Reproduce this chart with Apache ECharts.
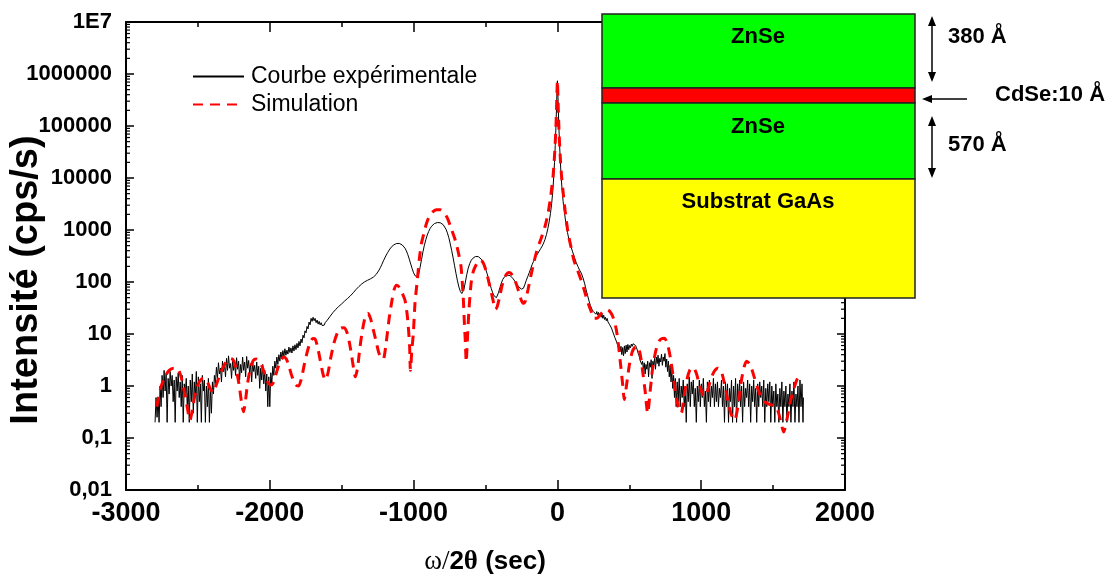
<!DOCTYPE html>
<html><head><meta charset="utf-8">
<script src="https://cdn.jsdelivr.net/npm/echarts@6/dist/echarts.min.js"></script>
<style>html,body{margin:0;padding:0;background:#fff}#c{width:1117px;height:579px}</style>
</head><body><div id="c"></div>
<script>
const seriesNames = ['Courbe expérimentale', 'Simulation'];
const yTickLabels = ['0,01', '0,1', '1', '10', '100', '1000', '10000', '100000', '1000000', '1E7'];
const xRange = [-3000, 2000];
const yRange = [0.01, 1e7];

const experimental = [
[-2798,0.2],[-2791,0.6],[-2784,0.25],[-2777,0.6],[-2770,0.2],[-2763,1.0],[-2756,0.4],[-2749,1.6],[-2742,0.6],[-2735,2.0],
[-2728,0.8],[-2721,1.7],[-2714,0.2],[-2707,1.4],[-2700,0.7],[-2693,1.9],[-2686,1.0],[-2679,1.6],[-2672,0.5],[-2665,1.3],
[-2658,0.2],[-2651,1.5],[-2644,0.8],[-2637,1.8],[-2630,0.6],[-2623,1.2],[-2616,0.4],[-2609,1.6],[-2602,0.2],[-2595,1.1],
[-2588,0.7],[-2581,1.4],[-2574,0.4],[-2567,1.0],[-2560,0.2],[-2553,1.3],[-2546,0.5],[-2539,1.7],[-2532,0.3],[-2525,1.2],
[-2518,0.6],[-2511,1.9],[-2504,0.2],[-2497,1.5],[-2490,0.5],[-2483,1.1],[-2476,0.2],[-2469,1.6],[-2462,0.8],[-2455,1.3],
[-2448,0.2],[-2441,1.0],[-2434,0.4],[-2427,1.4],[-2420,0.2],[-2413,0.9],[-2406,0.3],[-2399,1.2],[-2392,0.7],[-2385,1.6],
[-2378,1.1],[-2371,2.3],[-2364,1.4],[-2357,2.8],[-2350,1.7],[-2343,2.2],[-2336,1.2],[-2329,3.0],[-2322,1.9],[-2315,2.6],
[-2308,1.5],[-2301,3.4],[-2294,2.0],[-2287,3.8],[-2280,2.2],[-2273,2.7],[-2266,1.4],[-2259,3.1],[-2252,2.0],[-2245,2.8],
[-2238,1.6],[-2231,3.5],[-2224,2.1],[-2217,3.0],[-2210,1.3],[-2203,2.6],[-2196,1.8],[-2189,3.6],[-2182,2.0],[-2175,2.9],
[-2168,1.5],[-2161,3.7],[-2154,2.2],[-2147,3.1],[-2140,1.7],[-2133,2.7],[-2126,1.2],[-2119,3.0],[-2112,1.9],[-2105,2.5],
[-2098,1.4],[-2091,2.9],[-2084,1.6],[-2077,2.4],[-2070,0.9],[-2063,2.2],[-2056,1.3],[-2049,2.6],[-2042,1.1],[-2035,2.0],
[-2028,0.8],[-2021,1.7],[-2014,0.4],[-2007,1.5],[-2000,0.4],[-1993,1.8],[-1986,1.1],[-1979,2.4],[-1972,1.6],[-1965,3.0],
[-1958,2.2],[-1951,3.6],[-1944,2.6],[-1937,4.0],[-1930,3.0],[-1923,4.5],[-1916,3.4],[-1909,4.8],[-1902,3.7],[-1895,5.2],
[-1888,3.9],[-1881,4.9],[-1874,4.1],[-1867,5.6],[-1860,4.4],[-1853,5.4],[-1846,4.3],[-1839,5.9],[-1832,4.7],[-1825,6.2],
[-1818,5.0],[-1811,6.6],[-1804,5.4],[-1797,7.2],[-1790,5.9],[-1783,8.0],[-1776,6.8],[-1769,9.5],[-1762,8.4],[-1755,11.5],
[-1748,10.5],[-1741,14],[-1734,12.5],[-1727,17],[-1720,15],[-1713,20],[-1706,17.5],[-1699,21],[-1692,18],[-1685,20],
[-1678,16.5],[-1671,18.5],[-1664,15.5],[-1657,17.5],[-1650,15],[-1643,16.5],[-1636,14.5],[-1629,15.5],[-1622,14.8],[-1615,16.5],
[-1608,16.8],[-1600,18.5],[-1590,19.5],[-1580,22],[-1570,23],[-1560,26],[-1550,27],[-1540,30],[-1530,31],[-1520,34],
[-1510,35],[-1500,38],[-1490,39],[-1480,43],[-1470,44],[-1460,48],[-1450,50],[-1440,54],[-1430,57],[-1420,62],
[-1410,66],[-1400,72],[-1390,76],[-1380,82],[-1370,86],[-1360,92],[-1350,96],[-1340,101],[-1330,104],[-1320,108],
[-1310,111],[-1300,115],[-1290,118],[-1280,124],[-1270,130],[-1260,140],[-1250,152],[-1240,170],[-1230,192],[-1220,220],
[-1210,255],[-1200,290],[-1190,330],[-1180,370],[-1170,410],[-1160,450],[-1150,485],[-1140,515],[-1130,535],[-1120,548],
[-1110,555],[-1100,552],[-1090,540],[-1080,518],[-1070,488],[-1060,448],[-1050,395],[-1040,335],[-1030,275],[-1020,222],
[-1010,180],[-1000,150],[-990,132],[-980,125],[-972,126],[-965,140],[-955,190],[-945,270],[-935,380],[-925,510],
[-915,650],[-905,800],[-895,940],[-885,1070],[-875,1180],[-865,1270],[-855,1330],[-845,1370],[-835,1390],[-825,1395],
[-815,1380],[-805,1340],[-795,1270],[-785,1170],[-775,1040],[-765,880],[-755,710],[-745,540],[-735,400],[-725,290],
[-715,205],[-705,145],[-695,105],[-685,80],[-675,66],[-665,60],[-657,61],[-650,72],[-640,100],[-630,140],
[-620,185],[-610,225],[-600,258],[-590,283],[-580,300],[-570,309],[-560,312],[-550,308],[-540,296],[-530,276],
[-520,248],[-510,215],[-500,180],[-490,148],[-480,118],[-470,94],[-460,75],[-450,62],[-440,54],[-430,50],
[-424,50],[-418,54],[-410,62],[-400,78],[-390,95],[-380,112],[-370,124],[-360,132],[-350,136],[-340,136],
[-330,133],[-320,127],[-310,118],[-300,108],[-290,98],[-280,89],[-270,81],[-260,76],[-250,73],[-243,72],
[-236,76],[-226,90],[-216,108],[-206,128],[-196,150],[-186,180],[-176,215],[-166,250],[-156,285],[-146,320],
[-136,355],[-126,395],[-116,440],[-106,490],[-96,560],[-86,660],[-76,820],[-66,1080],[-56,1500],[-48,2100],
[-40,3200],[-32,5600],[-26,10000],[-20,20000],[-15,42000],[-10,100000],[-6,230000],[-3,450000],[0,740000],[3,450000],
[6,230000],[10,100000],[15,45000],[20,22000],[26,11000],[32,6200],[40,3500],[48,2300],[58,1400],[70,900],
[82,620],[94,480],[106,380],[118,300],[130,240],[142,200],[154,170],[166,148],[178,120],[190,92],
[200,70],[210,55],[220,43],[230,35],[240,30],[250,27],[256,26],[262,28],[268,24],[274,27],
[280,23],[286,26],[292,22],[298,25],[304,21],[310,24],[316,20],[322,23],[328,19],[334,21],
[340,18],[346,20],[352,17],[358,18],[364,15],[370,15.5],[376,13],[382,12.5],[388,10.5],[394,10],
[400,8.5],[406,8],[412,7],[418,6.8],[424,5.6],[430,6.2],[436,4.6],[442,5.8],[448,4.0],[454,5.5],
[460,3.8],[466,5.9],[472,4.2],[478,6.1],[484,4.5],[490,6.3],[496,5.0],[502,6.0],[508,5.4],[514,6.4],
[520,5.8],[526,6.5],[532,6.7],[538,6.4],[544,6.0],[550,5.4],[556,4.9],[562,4.2],[568,3.8],[574,3.2],
[580,3.4],[586,2.6],[592,3.0],[598,2.1],[604,2.8],[610,1.7],[616,2.6],[622,2.1],[628,3.0],[634,1.5],
[640,2.8],[646,2.3],[652,3.2],[658,1.4],[664,3.0],[670,2.5],[676,3.4],[682,2.1],[688,3.6],[694,2.7],
[700,3.9],[706,2.4],[712,3.4],[718,2.9],[724,4.1],[730,2.5],[736,3.6],[742,3.0],[748,4.2],[754,2.3],
[760,3.3],[766,1.9],[772,3.0],[778,1.5],[784,2.5],[790,1.2],[796,2.0],[802,0.9],[808,1.6],[814,0.6],
[820,1.4],[826,0.4],[833,1.2],[840,0.5],[847,1.4],[854,0.4],[861,1.0],[868,0.6],[875,1.3],[882,0.4],
[889,0.9],[896,0.2],[903,1.1],[910,0.5],[917,1.5],[924,0.4],[931,1.2],[938,0.7],[945,1.3],[952,0.4],
[959,0.9],[966,0.2],[973,1.0],[980,0.5],[987,1.3],[994,0.4],[1001,1.1],[1008,0.6],[1015,1.4],[1022,0.4],
[1029,0.8],[1036,0.2],[1043,1.2],[1050,0.5],[1057,1.3],[1064,0.4],[1071,1.0],[1078,0.6],[1085,1.4],[1092,0.4],
[1099,1.1],[1106,0.5],[1113,1.2],[1120,0.4],[1127,0.9],[1134,0.6],[1141,1.3],[1148,0.4],[1155,1.0],[1162,0.2],
[1169,1.2],[1176,0.4],[1183,1.1],[1190,0.2],[1197,0.9],[1204,0.5],[1211,1.3],[1218,0.2],[1225,1.0],[1232,0.4],
[1239,1.4],[1246,0.2],[1253,1.1],[1260,0.5],[1267,1.3],[1274,0.4],[1281,1.0],[1288,0.2],[1295,1.2],[1302,0.4],
[1309,0.9],[1316,0.6],[1323,1.3],[1330,0.4],[1337,1.1],[1344,0.2],[1351,1.0],[1358,0.5],[1365,1.3],[1372,0.4],
[1379,0.9],[1386,0.2],[1393,1.1],[1400,0.4],[1407,1.2],[1414,0.6],[1421,1.0],[1428,0.4],[1435,1.3],[1442,0.2],
[1449,0.9],[1456,0.4],[1463,1.1],[1470,0.5],[1477,1.2],[1484,0.2],[1491,1.0],[1498,0.4],[1505,0.8],[1512,0.2],
[1519,1.1],[1526,0.4],[1533,0.7],[1540,0.2],[1547,0.9],[1554,0.4],[1561,1.2],[1568,0.2],[1575,0.8],[1582,0.4],
[1589,1.0],[1596,0.2],[1603,0.7],[1610,0.4],[1617,1.1],[1624,0.2],[1631,0.8],[1638,0.4],[1645,1.2],[1652,0.2],
[1659,0.7],[1666,0.4],[1673,1.0],[1680,0.2],[1687,1.3],[1694,0.4],[1701,1.1],[1708,0.2],[1711,0.6]
];

const simulation = [
[-2786,0.4],[-2760,0.9],[-2730,1.5],[-2700,2.0],[-2670,2.2],[-2645,2.2],[-2620,1.6],[-2595,0.8],[-2575,0.4],[-2555,0.22],
[-2535,0.4],[-2515,0.8],[-2490,1.2],[-2465,1.4],[-2440,1.3],[-2415,0.9],[-2395,0.75],[-2370,1.1],[-2345,1.7],[-2315,2.6],
[-2290,3.2],[-2270,3.4],[-2250,3.0],[-2230,1.9],[-2210,0.9],[-2195,0.45],[-2183,0.32],[-2170,0.5],[-2155,1.1],[-2135,2.2],
[-2115,3.1],[-2095,3.3],[-2075,3.0],[-2055,2.4],[-2035,1.7],[-2015,1.2],[-1995,1.05],[-1980,1.1],[-1960,1.6],[-1940,2.4],
[-1920,3.2],[-1904,3.6],[-1885,3.3],[-1865,2.3],[-1845,1.5],[-1820,1.05],[-1800,1.0],[-1780,1.4],[-1760,2.6],[-1740,4.5],
[-1720,6.8],[-1700,8.2],[-1685,8.0],[-1670,6.0],[-1650,3.2],[-1630,1.7],[-1613,1.3],[-1595,1.8],[-1575,3.6],[-1555,6.5],
[-1530,10.5],[-1505,13],[-1485,13.2],[-1465,11],[-1445,6.5],[-1425,3.0],[-1405,1.5],[-1390,2.2],[-1375,5],[-1360,10],
[-1345,17],[-1330,24],[-1318,25],[-1300,20],[-1280,12],[-1260,7],[-1240,4.2],[-1220,3.3],[-1207,3.4],[-1190,7],
[-1170,20],[-1150,45],[-1135,72],[-1118,87],[-1100,80],[-1080,62],[-1060,45],[-1045,24],[-1037,14],[-1028,6],
[-1022,2.0],[-1012,5],[-1002,10],[-990,40],[-974,110],[-960,280],[-945,560],[-928,870],[-910,1350],[-890,1850],
[-865,2250],[-840,2450],[-815,2450],[-790,2200],[-765,1700],[-740,1100],[-715,700],[-700,500],[-685,330],[-670,195],
[-655,52],[-648,19],[-640,6.8],[-634,2.9],[-627,6.8],[-615,29],[-600,95],[-585,160],[-565,215],[-550,250],
[-533,262],[-515,230],[-495,160],[-475,95],[-455,55],[-440,36],[-430,30],[-418,34],[-400,55],[-385,85],
[-370,115],[-355,140],[-340,152],[-325,148],[-305,125],[-285,90],[-265,60],[-250,44],[-235,39],[-222,44],
[-205,70],[-185,130],[-165,230],[-145,380],[-125,560],[-105,800],[-85,1200],[-65,2100],[-50,3800],[-38,7000],
[-30,11000],[-22,22000],[-15,48000],[-10,100000],[-6,220000],[-3,440000],[0,740000],[3,440000],[6,220000],[10,100000],
[15,46000],[22,20000],[30,10000],[38,6000],[48,3200],[60,1700],[75,850],[94,480],[115,260],[140,170],
[164,110],[190,65],[215,38],[240,25],[256,20],[275,20],[300,24],[325,28],[350,29],[370,26],
[390,20],[410,12],[425,6],[440,2.5],[455,1.0],[465,0.55],[480,1.0],[500,2.5],[520,4.5],[540,5.6],
[558,5.8],[575,4.2],[592,2.0],[610,0.8],[628,0.3],[645,0.8],[665,2.5],[690,5.5],[715,7.8],[744,8.3],
[765,6.5],[790,3.0],[815,1.0],[840,0.4],[861,0.3],[880,0.6],[900,1.3],[920,2.0],[942,2.3],[965,1.8],
[990,1.0],[1010,0.7],[1023,0.63],[1040,0.75],[1065,1.3],[1090,1.9],[1116,2.2],[1140,1.9],[1165,1.0],[1190,0.45],
[1210,0.28],[1232,0.22],[1255,0.4],[1280,1.3],[1300,2.4],[1316,3.0],[1340,2.6],[1365,1.6],[1390,0.95],[1415,0.62],
[1440,0.5],[1470,0.45],[1500,0.42],[1530,0.35],[1555,0.2],[1573,0.13],[1595,0.22],[1620,0.5],[1645,0.9],[1670,1.4],
[1690,1.5]
];

// minor log ticks (2..9 per decade) placed through the axis scale
const minorTickValues = [];
for (let e = -2; e < 7; e++) for (let m = 2; m <= 9; m++) minorTickValues.push([xRange[0], m * Math.pow(10, e)]);

const FONT = '"Liberation Sans", Arial, Helvetica, sans-serif';
const chart = echarts.init(document.getElementById('c'), null, { renderer: 'canvas' });

const xAxisBase = {
  type: 'value', min: xRange[0], max: xRange[1], interval: 1000,
  axisLine: { show: true, onZero: false, lineStyle: { color: '#000', width: 2 } },
  axisTick: { show: true, inside: true, length: 10, lineStyle: { color: '#000', width: 1.5 } },
  minorTick: { show: true, splitNumber: 2, length: 5, lineStyle: { color: '#000', width: 1.5 } },
  splitLine: { show: false }
};
const yAxisBase = {
  type: 'log', logBase: 10, min: yRange[0], max: yRange[1], interval: 1,
  axisLine: { show: true, onZero: false, lineStyle: { color: '#000', width: 2 } },
  axisTick: { show: true, inside: true, length: 8, lineStyle: { color: '#000', width: 1.5 } },
  minorTick: { show: false },
  splitLine: { show: false }
};

chart.setOption({
  animation: false,
  backgroundColor: '#fff',
  grid: { left: 126, right: 272, top: 22, bottom: 89, containLabel: false },
  legend: {
    data: seriesNames, orient: 'vertical', left: 192, top: 65, itemGap: 5, padding: 0,
    itemWidth: 51, itemHeight: 14, selectedMode: false,
    itemStyle: { opacity: 0 },
    textStyle: { fontFamily: FONT, fontSize: 23, color: '#000', lineHeight: 23, padding: [0, 0, 0, 2] }
  },
  xAxis: [
    Object.assign({}, xAxisBase, { position: 'bottom',
      axisLabel: { show: true, margin: 10, fontFamily: FONT, fontSize: 27, fontWeight: 'bold', color: '#000',
        formatter: v => String(v) } }),
    Object.assign({}, xAxisBase, { position: 'top', axisLabel: { show: false } })
  ],
  yAxis: [
    Object.assign({}, yAxisBase, { position: 'left',
      axisLabel: { show: true, margin: 14, fontFamily: FONT, fontSize: 22, fontWeight: 'bold', color: '#000',
        formatter: v => yTickLabels[Math.round(Math.log10(v)) + 2] } }),
    Object.assign({}, yAxisBase, { position: 'right', axisLabel: { show: false } })
  ],
  series: [
    {
      name: seriesNames[0], type: 'line', data: experimental, xAxisIndex: 0, yAxisIndex: 0,
      showSymbol: false, symbol: 'none', smooth: false, z: 3,
      lineStyle: { color: '#000', width: 1 }, itemStyle: { color: '#000' }
    },
    {
      name: seriesNames[1], type: 'line', data: simulation, xAxisIndex: 0, yAxisIndex: 0,
      showSymbol: false, symbol: 'none', smooth: 0.25, z: 4,
      lineStyle: { color: '#ff0000', width: 3, type: [10, 7] }, itemStyle: { color: '#ff0000' }
    },
    {
      name: 'minorTicks', type: 'custom', xAxisIndex: 0, yAxisIndex: 0, silent: true, clip: false, z: 5,
      data: minorTickValues,
      renderItem: function (params, api) {
        const v = api.value(1);
        const pl = api.coord([xRange[0], v]);
        const pr = api.coord([xRange[1], v]);
        return { type: 'group', children: [
          { type: 'line', shape: { x1: pl[0], y1: pl[1], x2: pl[0] + 4, y2: pl[1] }, style: { stroke: '#000', lineWidth: 1.2 } },
          { type: 'line', shape: { x1: pr[0], y1: pr[1], x2: pr[0] - 4, y2: pr[1] }, style: { stroke: '#000', lineWidth: 1.2 } }
        ] };
      }
    }
  ],
  graphic: [
    // axis titles
    { type: 'text', z: 50, x: 27, y: 280, rotation: Math.PI / 2,
      style: { text: 'Intensité (cps/s)', font: 'bold 38px ' + FONT, fill: '#000', align: 'center', verticalAlign: 'middle' } },
    { type: 'text', z: 50, x: 485, y: 562,
      style: { text: '{w|ω/}{b|2}{t|θ}{b| (sec)}', align: 'center', verticalAlign: 'middle',
        rich: {
          w: { fontFamily: '"Liberation Serif", "Times New Roman", serif', fontSize: 27, fill: '#000', fontWeight: 'normal' },
          b: { fontFamily: FONT, fontSize: 26, fontWeight: 'bold', fill: '#000' },
          t: { fontFamily: '"Liberation Serif", "Times New Roman", serif', fontSize: 27, fontWeight: 'bold', fill: '#000' }
        } } },
    // inset layer stack
    { type: 'rect', z: 100, shape: { x: 602, y: 14, width: 313, height: 74 }, style: { fill: '#00ff00', stroke: '#222', lineWidth: 1.5 } },
    { type: 'rect', z: 100, shape: { x: 602, y: 88, width: 313, height: 15 }, style: { fill: '#ff0000', stroke: '#222', lineWidth: 1.5 } },
    { type: 'rect', z: 100, shape: { x: 602, y: 103, width: 313, height: 76 }, style: { fill: '#00ff00', stroke: '#222', lineWidth: 1.5 } },
    { type: 'rect', z: 100, shape: { x: 602, y: 179, width: 313, height: 119 }, style: { fill: '#ffff00', stroke: '#222', lineWidth: 1.5 } },
    { type: 'text', z: 101, x: 758, y: 37, style: { text: 'ZnSe', font: 'bold 22px ' + FONT, fill: '#000', align: 'center', verticalAlign: 'middle' } },
    { type: 'text', z: 101, x: 758, y: 127, style: { text: 'ZnSe', font: 'bold 22px ' + FONT, fill: '#000', align: 'center', verticalAlign: 'middle' } },
    { type: 'text', z: 101, x: 758, y: 202, style: { text: 'Substrat GaAs', font: 'bold 22px ' + FONT, fill: '#000', align: 'center', verticalAlign: 'middle' } },
    // thickness arrows
    { type: 'line', z: 101, shape: { x1: 932, y1: 24, x2: 932, y2: 74 }, style: { stroke: '#000', lineWidth: 1.5 } },
    { type: 'polygon', z: 101, shape: { points: [[932, 16], [928, 26], [936, 26]] }, style: { fill: '#000' } },
    { type: 'polygon', z: 101, shape: { points: [[932, 82], [928, 72], [936, 72]] }, style: { fill: '#000' } },
    { type: 'line', z: 101, shape: { x1: 932, y1: 124, x2: 932, y2: 170 }, style: { stroke: '#000', lineWidth: 1.5 } },
    { type: 'polygon', z: 101, shape: { points: [[932, 116], [928, 126], [936, 126]] }, style: { fill: '#000' } },
    { type: 'polygon', z: 101, shape: { points: [[932, 178], [928, 168], [936, 168]] }, style: { fill: '#000' } },
    { type: 'line', z: 101, shape: { x1: 967, y1: 99, x2: 930, y2: 99 }, style: { stroke: '#000', lineWidth: 1.5 } },
    { type: 'polygon', z: 101, shape: { points: [[922, 99], [932, 95], [932, 103]] }, style: { fill: '#000' } },
    { type: 'text', z: 101, x: 948, y: 37, style: { text: '380 Å', font: 'bold 22px ' + FONT, fill: '#000', align: 'left', verticalAlign: 'middle' } },
    { type: 'text', z: 101, x: 948, y: 145, style: { text: '570 Å', font: 'bold 22px ' + FONT, fill: '#000', align: 'left', verticalAlign: 'middle' } },
    { type: 'text', z: 101, x: 995, y: 95, style: { text: 'CdSe:10 Å', font: 'bold 22px ' + FONT, fill: '#000', align: 'left', verticalAlign: 'middle' } }
  ]
});
</script>
</body></html>
